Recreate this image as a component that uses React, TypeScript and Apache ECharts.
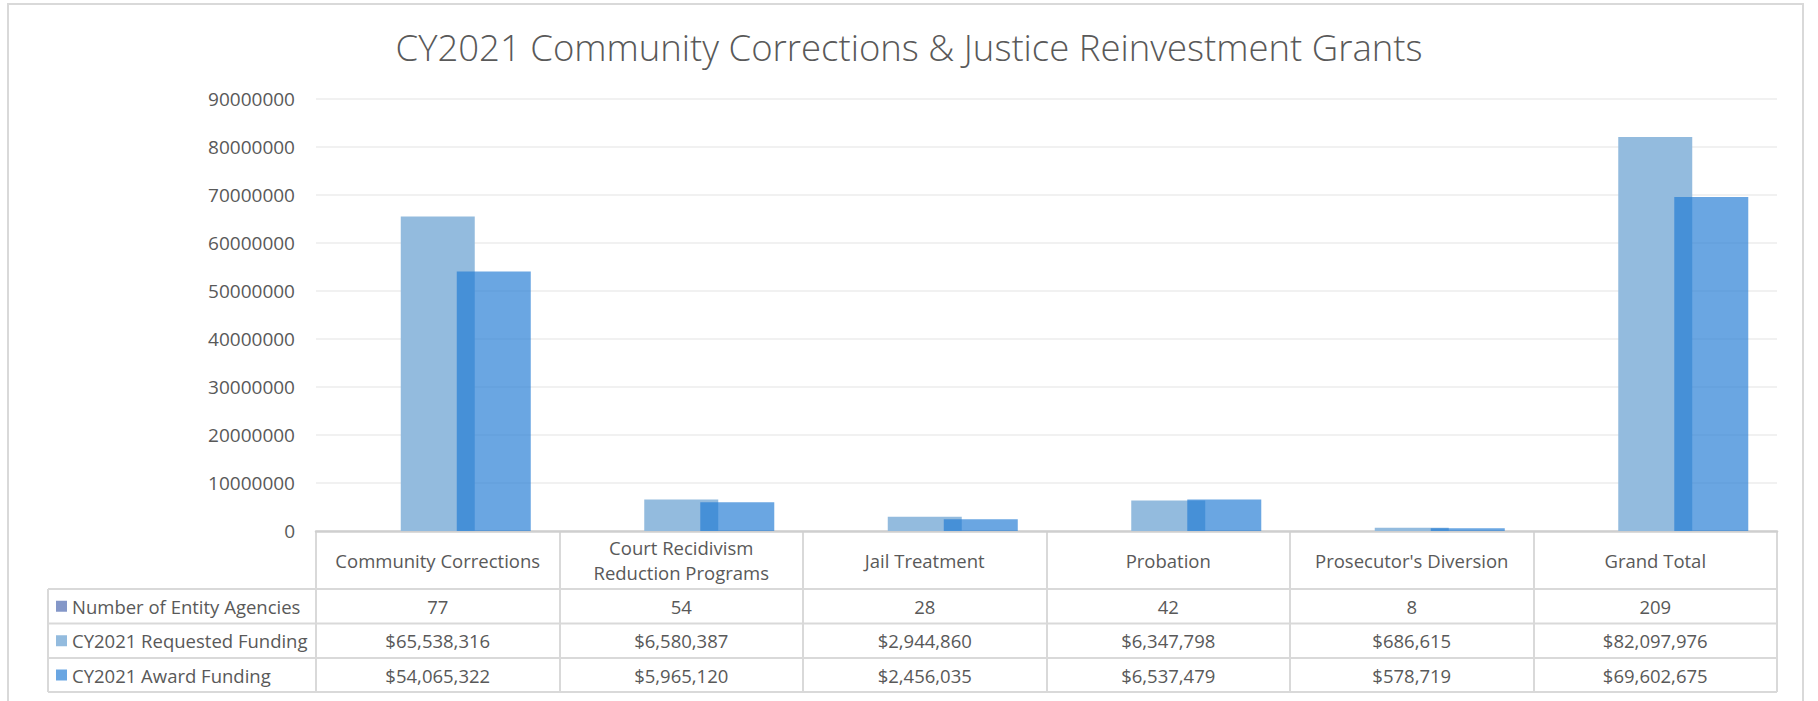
import React, { useEffect, useRef } from "react";
import * as echarts from "echarts";

const title = "CY2021 Community Corrections & Justice Reinvestment Grants";
const categories = [
  "Community Corrections",
  "Court Recidivism\nReduction Programs",
  "Jail Treatment",
  "Probation",
  "Prosecutor's Diversion",
  "Grand Total",
];
const seriesNames = [
  "Number of Entity Agencies",
  "CY2021 Requested Funding",
  "CY2021 Award Funding",
];
const agencies = [77, 54, 28, 42, 8, 209];
const requested = [65538316, 6580387, 2944860, 6347798, 686615, 82097976];
const awarded = [54065322, 5965120, 2456035, 6537479, 578719, 69602675];
const yMax = 90000000;
const yStep = 10000000;

const seriesColors = ["#8497C8", "#93BBDE", "rgba(33,122,212,0.67)"];
const legendColors = ["#8497C8", "#93BBDE", "#6AA6E2"];

const FONT = '"Open Sans", "Noto Sans", sans-serif';
const TEXT = "#595959";

export default function App() {
  const ref = useRef<HTMLDivElement>(null);
  useEffect(() => {
    if (!ref.current) return;
    const chart = echarts.init(ref.current, undefined, { renderer: "svg" });

    const W = 1818;
    const H = 701;
    const gl = 316;
    const gr = 1777;
    const gt = 99;
    const gb = 531;
    const n = categories.length;
    const cw = (gr - gl) / n;
    const rowLines = [589, 623.5, 658, 692];
    const tableLeft = 48;
    const fs = 18.5;

    const rows = [
      agencies.map((v) => String(v)),
      requested.map((v) => "$" + v.toLocaleString("en-US")),
      awarded.map((v) => "$" + v.toLocaleString("en-US")),
    ];

    const lineStyle = { stroke: "#D9D9D9", lineWidth: 2 };
    const g: any[] = [];
    g.push({
      type: "rect",
      shape: { x: 8, y: 4, width: 1795, height: 720 },
      style: { fill: "none", stroke: "#D9D9D9", lineWidth: 2 },
      silent: true,
    });
    for (let i = 0; i <= n; i++) {
      const x = Math.round(gl + i * cw);
      g.push({
        type: "line",
        shape: { x1: x, y1: gb, x2: x, y2: rowLines[3] },
        style: lineStyle,
        silent: true,
      });
    }
    g.push({
      type: "line",
      shape: { x1: tableLeft, y1: rowLines[0], x2: tableLeft, y2: rowLines[3] },
      style: lineStyle,
      silent: true,
    });
    rowLines.forEach((y) => {
      g.push({
        type: "line",
        shape: { x1: tableLeft, y1: y, x2: gr, y2: y },
        style: lineStyle,
        silent: true,
      });
    });
    seriesNames.forEach((name, r) => {
      const cy = (rowLines[r] + rowLines[r + 1]) / 2;
      g.push({
        type: "rect",
        shape: { x: 56, y: cy - 5.5, width: 11, height: 11 },
        style: { fill: legendColors[r] },
        silent: true,
      });
      g.push({
        type: "text",
        x: 72,
        y: cy,
        style: {
          text: name,
          fill: TEXT,
          fontSize: fs,
          fontFamily: FONT,
          align: "left",
          verticalAlign: "middle",
        },
        silent: true,
      });
      rows[r].forEach((txt, c) => {
        g.push({
          type: "text",
          x: gl + (c + 0.5) * cw,
          y: cy,
          style: {
            text: txt,
            fill: TEXT,
            fontSize: fs,
            fontFamily: FONT,
            align: "center",
            verticalAlign: "middle",
          },
          silent: true,
        });
      });
    });

    chart.setOption({
      animation: false,
      backgroundColor: "#ffffff",
      title: {
        text: title,
        left: 904,
        top: 23,
        textAlign: "center",
        textStyle: {
          fontFamily: FONT,
          fontWeight: 300,
          fontSize: 36.5,
          color: TEXT,
        },
      },
      grid: { left: gl, right: W - gr, top: gt, bottom: H - gb, containLabel: false },
      xAxis: {
        type: "category",
        data: categories,
        axisTick: { show: false },
        axisLine: { show: true, lineStyle: { color: "#CFCFCF", width: 2.5 } },
        axisLabel: {
          interval: 0,
          margin: 29,
          verticalAlign: "middle",
          color: TEXT,
          fontSize: fs,
          fontFamily: FONT,
          lineHeight: 25,
        },
      },
      yAxis: {
        type: "value",
        min: 0,
        max: yMax,
        interval: yStep,
        axisLine: { show: false },
        axisTick: { show: false },
        splitLine: { lineStyle: { color: "#EDEDED", width: 1.5 } },
        axisLabel: {
          margin: 21,
          color: TEXT,
          fontSize: 19,
          fontFamily: FONT,
          formatter: (v: number) => String(v),
        },
      },
      series: [
        {
          name: seriesNames[0],
          type: "bar",
          data: agencies,
          barWidth: 74,
          barGap: "-24.3%",
          itemStyle: { color: seriesColors[0] },
        },
        {
          name: seriesNames[1],
          type: "bar",
          data: requested,
          barWidth: 74,
          barGap: "-24.3%",
          itemStyle: { color: seriesColors[1] },
        },
        {
          name: seriesNames[2],
          type: "bar",
          data: awarded,
          barWidth: 74,
          barGap: "-24.3%",
          itemStyle: { color: seriesColors[2] },
        },
      ],
      graphic: g,
    });

    return () => chart.dispose();
  }, []);

  return (
    <div
      ref={ref}
      style={{ position: "absolute", left: 0, top: 0, width: 1818, height: 701 }}
    />
  );
}
